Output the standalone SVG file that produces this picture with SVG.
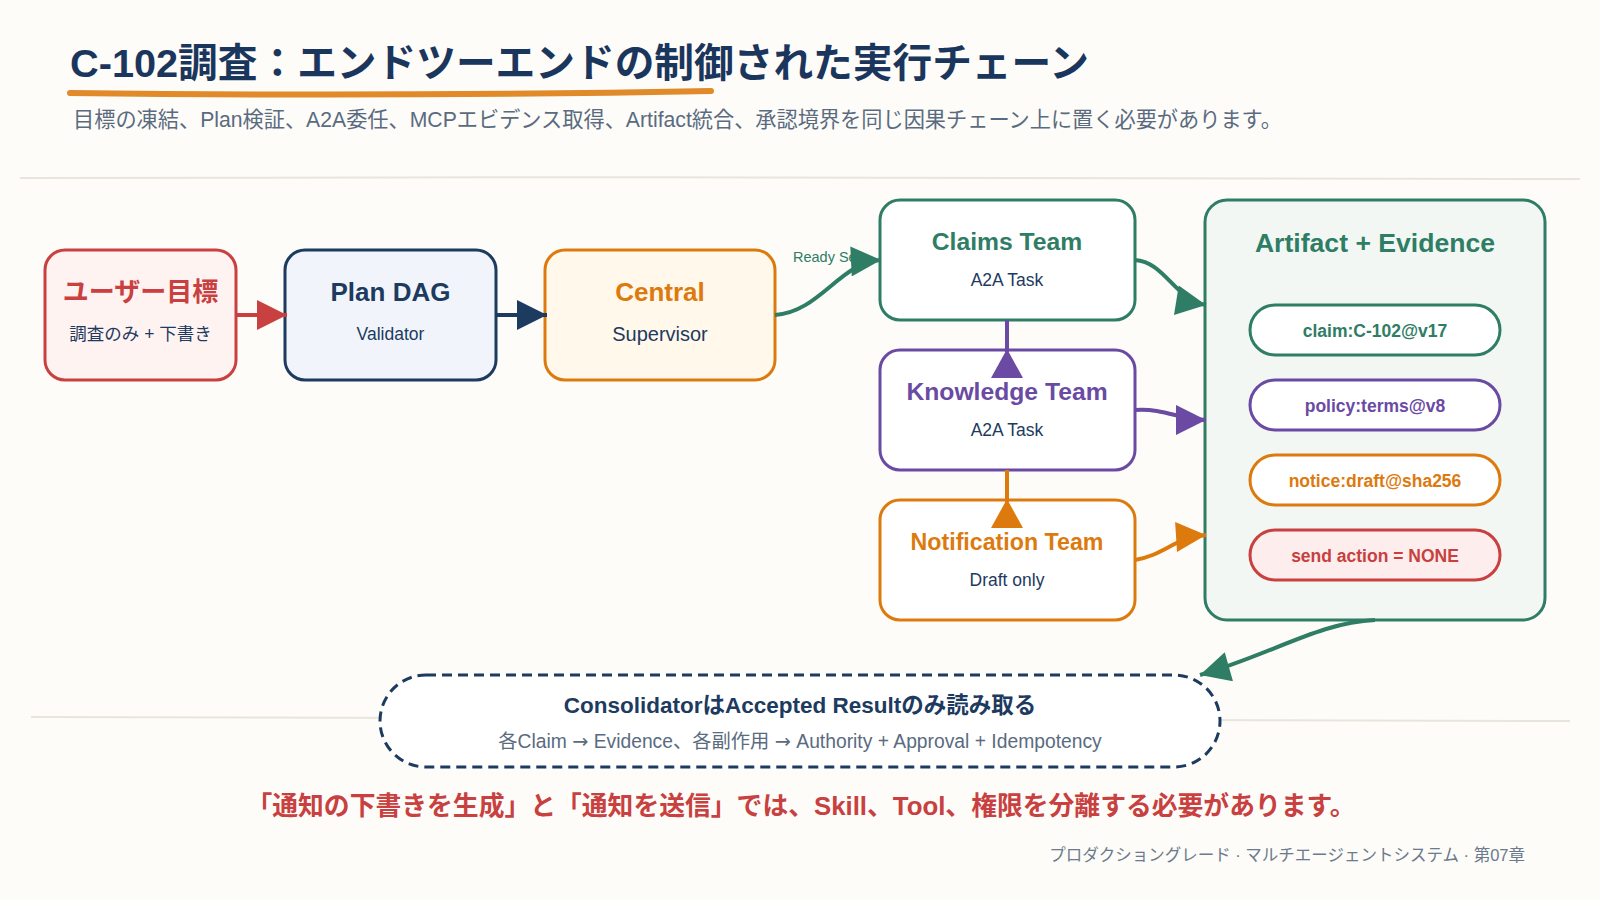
<svg xmlns="http://www.w3.org/2000/svg" width="1600" height="900" viewBox="0 0 1600 900">
<defs>
<style>
.jp{font-family:"Liberation Sans","Noto Sans CJK JP",sans-serif}
.node rect{stroke-width:3}
.tt{font-weight:bold;text-anchor:middle}
.st{text-anchor:middle;fill:#1d3a5f}
.pill{font-weight:bold;text-anchor:middle;font-size:17.5px}
.con{fill:none;stroke-width:4}
.arr{font-family:"DejaVu Sans",sans-serif}
</style>
<marker id="mR" viewBox="0 0 10 10" refX="10" refY="5" markerWidth="32" markerHeight="30" markerUnits="userSpaceOnUse" orient="auto"><path d="M0,0 L10,5 L0,10 z" fill="#c8403f"/></marker>
<marker id="mN" viewBox="0 0 10 10" refX="10" refY="5" markerWidth="32" markerHeight="30" markerUnits="userSpaceOnUse" orient="auto"><path d="M0,0 L10,5 L0,10 z" fill="#1d3a5f"/></marker>
<marker id="mG" viewBox="0 0 10 10" refX="10" refY="5" markerWidth="32" markerHeight="30" markerUnits="userSpaceOnUse" orient="auto"><path d="M0,0 L10,5 L0,10 z" fill="#2e7d64"/></marker>
<marker id="mP" viewBox="0 0 10 10" refX="10" refY="5" markerWidth="32" markerHeight="30" markerUnits="userSpaceOnUse" orient="auto"><path d="M0,0 L10,5 L0,10 z" fill="#6a4aa3"/></marker>
<marker id="mO" viewBox="0 0 10 10" refX="10" refY="5" markerWidth="32" markerHeight="30" markerUnits="userSpaceOnUse" orient="auto"><path d="M0,0 L10,5 L0,10 z" fill="#dd7a0e"/></marker>
</defs>
<rect x="0" y="0" width="1600" height="900" fill="#fdfcf8"/>

<g id="header" class="jp">
<text x="70" y="77" font-size="39.7" font-weight="bold" fill="#1b365d">C-102調査：エンドツーエンドの制御された実行チェーン</text>
<path d="M70,93 Q390,97 711,91" fill="none" stroke="#e08a2a" stroke-width="6" stroke-linecap="round"/>
<text x="73" y="127" font-size="21.2" fill="#5a6b80">目標の凍結、Plan検証、A2A委任、MCPエビデンス取得、Artifact統合、承認境界を同じ因果チェーン上に置く必要があります。</text>
<path d="M20,178 Q800,176 1580,179" fill="none" stroke="#e9e5dd" stroke-width="2"/>
<path d="M31,717 Q800,716 1570,721" fill="none" stroke="#e9e5dd" stroke-width="2"/>
</g>

<g id="n-user" class="node jp">
<rect x="45" y="250" width="191" height="130" rx="20" fill="#fff3f1" stroke="#c8403f"/>
<text class="tt" x="140.5" y="301" font-size="26" fill="#c8403f">ユーザー目標</text>
<text class="st" x="140.5" y="340" font-size="17.5">調査のみ + 下書き</text>
</g>
<g id="n-plan" class="node jp">
<rect x="285" y="250" width="211" height="130" rx="20" fill="#f1f5fb" stroke="#1d3a5f"/>
<text class="tt" x="390.5" y="301" font-size="26" fill="#1d3a5f">Plan DAG</text>
<text class="st" x="390.5" y="340" font-size="17.5">Validator</text>
</g>
<g id="n-central" class="node jp">
<rect x="545" y="250" width="230" height="130" rx="20" fill="#fff8eb" stroke="#dd7a0e"/>
<text class="tt" x="660" y="301" font-size="26" fill="#dd7a0e">Central</text>
<text class="st" x="660" y="341" font-size="20">Supervisor</text>
</g>
<g id="n-claims" class="node jp">
<rect x="880" y="200" width="255" height="120" rx="20" fill="#ffffff" stroke="#2e7d64"/>
<text class="tt" x="1007" y="250" font-size="24.7" fill="#2e7d64">Claims Team</text>
<text class="st" x="1007" y="286" font-size="17.5">A2A Task</text>
</g>
<g id="n-knowledge" class="node jp">
<rect x="880" y="350" width="255" height="120" rx="20" fill="#ffffff" stroke="#6a4aa3"/>
<text class="tt" x="1007" y="400" font-size="24.7" fill="#6a4aa3">Knowledge Team</text>
<text class="st" x="1007" y="436" font-size="17.5">A2A Task</text>
</g>
<g id="n-notification" class="node jp">
<rect x="880" y="500" width="255" height="120" rx="20" fill="#ffffff" stroke="#dd7a0e"/>
<text class="tt" x="1007" y="550" font-size="23.2" fill="#dd7a0e">Notification Team</text>
<text class="st" x="1007" y="586" font-size="17.5">Draft only</text>
</g>
<g id="n-artifact" class="node jp">
<rect x="1205" y="200" width="340" height="420" rx="22" fill="#f2f7f4" stroke="#2e7d64"/>
<text class="tt" x="1375" y="252" font-size="26.6" fill="#2e7d64">Artifact + Evidence</text>
<rect x="1250" y="305" width="250" height="50" rx="25" fill="#ffffff" stroke="#2e7d64"/>
<text class="pill" x="1375" y="337" fill="#2e7d64">claim:C-102@v17</text>
<rect x="1250" y="380" width="250" height="50" rx="25" fill="#ffffff" stroke="#6a4aa3"/>
<text class="pill" x="1375" y="412" fill="#6a4aa3">policy:terms@v8</text>
<rect x="1250" y="455" width="250" height="50" rx="25" fill="#ffffff" stroke="#dd7a0e"/>
<text class="pill" x="1375" y="487" fill="#dd7a0e">notice:draft@sha256</text>
<rect x="1250" y="530" width="250" height="50" rx="25" fill="#fdeeed" stroke="#c8403f"/>
<text class="pill" x="1375" y="562" fill="#c8403f">send action = NONE</text>
</g>
<g id="n-consolidator" class="node jp">
<rect x="380" y="675" width="840" height="92" rx="46" fill="#ffffff" stroke="#1d3a5f" stroke-dasharray="10 6"/>
<text class="tt" x="800" y="713" font-size="22.5" fill="#1d3a5f">ConsolidatorはAccepted Resultのみ読み取る</text>
<text x="800" y="748" font-size="19.3" fill="#5a6b80" text-anchor="middle">各Claim <tspan class="arr">→</tspan> Evidence、各副作用 <tspan class="arr">→</tspan> Authority + Approval + Idempotency</text>
</g>

<g id="connectors" class="jp">
<path class="con" d="M236,315 L287,315" stroke="#c8403f" marker-end="url(#mR)"/>
<path class="con" d="M496,315 L547,315" stroke="#1d3a5f" marker-end="url(#mN)"/>
<text x="793" y="262" font-size="14.5" fill="#2e7d64">Ready Set</text>
<path class="con" d="M775,315 C820,312 840,262 881,260" stroke="#2e7d64" marker-end="url(#mG)"/>
<path class="con" d="M1007,320 L1007,352" stroke="#6a4aa3"/>
<polygon points="1007,349 991,378 1023,378" fill="#6a4aa3"/>
<path class="con" d="M1007,470 L1007,502" stroke="#dd7a0e"/>
<polygon points="1007,499 991,528 1023,528" fill="#dd7a0e"/>
<path class="con" d="M1135,260 C1165,262 1175,300 1206,305" stroke="#2e7d64" marker-end="url(#mG)"/>
<path class="con" d="M1135,410 C1165,408 1180,420 1206,420" stroke="#6a4aa3" marker-end="url(#mP)"/>
<path class="con" d="M1135,560 C1165,555 1175,537 1206,535" stroke="#dd7a0e" marker-end="url(#mO)"/>
<path class="con" d="M1375,620 C1320,622 1270,655 1200,675" stroke="#2e7d64" marker-end="url(#mG)"/>
</g>

<g id="footer" class="jp">
<text x="801" y="815" font-size="25.8" font-weight="bold" fill="#c8403f" text-anchor="middle">「通知の下書きを生成」と「通知を送信」では、Skill、Tool、権限を分離する必要があります。</text>
<text x="1525" y="861" font-size="16.5" fill="#6b7a8c" text-anchor="end">プロダクショングレード · マルチエージェントシステム · 第07章</text>
</g>
</svg>
